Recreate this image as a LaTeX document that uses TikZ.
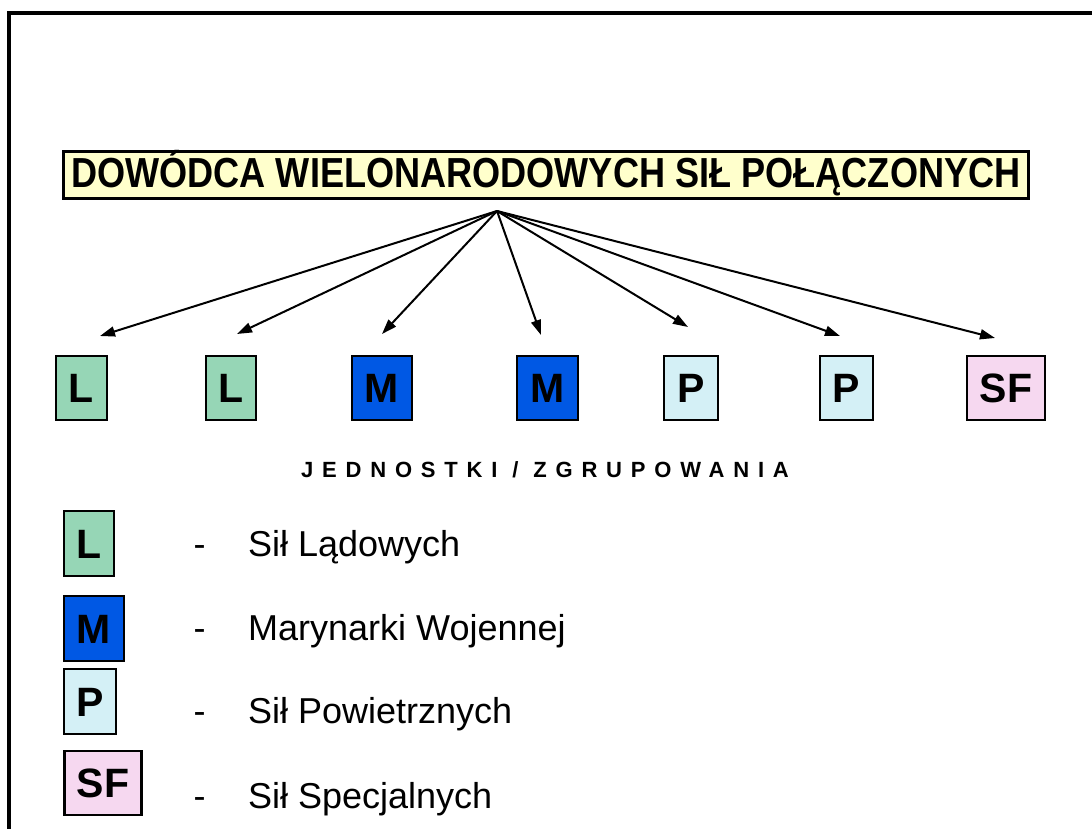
\documentclass[tikz,border=0pt]{standalone}
\usepackage{fontspec}
\setmainfont{Liberation Sans}
\usetikzlibrary{arrows.meta}
\definecolor{titlefill}{RGB}{255,255,204}
\definecolor{lfill}{RGB}{150,214,182}
\definecolor{mfill}{RGB}{0,88,228}
\definecolor{pfill}{RGB}{212,240,246}
\definecolor{sffill}{RGB}{246,216,240}
\tikzset{
  unitbox/.style={draw=black, line width=2.2pt, minimum height=64pt, inner sep=0pt,
    font=\fontsize{41}{41}\selectfont\bfseries, text height=29.5pt, text depth=0pt},
  arr/.style={line width=2pt, -{Triangle[length=15pt,width=10pt]}},
  legtext/.style={anchor=base west, inner sep=0pt, font=\fontsize{36}{36}\selectfont},
  legdash/.style={anchor=base, inner sep=0pt, font=\fontsize{36}{36}\selectfont},
}
\begin{document}
\begin{tikzpicture}[x=1pt,y=-1pt]
\clip (0,0) rectangle (1092,828);
\fill[white] (0,0) rectangle (1092,828);
% outer frame
\draw[line width=3.2pt] (9,13) rectangle (1120,860);
% title
\node[draw=black, line width=2.8pt, fill=titlefill, anchor=north west, inner sep=0pt,
      minimum width=965pt, text height=36pt, text depth=11pt] (title) at (62,150)
  {\fontsize{42}{42}\selectfont\bfseries\scalebox{0.86}[1]{DOWÓDCA WIELONARODOWYCH SIŁ POŁĄCZONYCH}};
% units
\node[unitbox, fill=lfill, minimum width=51pt] (u1) at (81.5,388) {L};
\node[unitbox, fill=lfill, minimum width=50pt] (u2) at (231,388) {L};
\node[unitbox, fill=mfill, minimum width=60pt] (u3) at (382,388) {M};
\node[unitbox, fill=mfill, minimum width=61pt] (u4) at (547.5,388) {M};
\node[unitbox, fill=pfill, minimum width=54pt] (u5) at (691,388) {P};
\node[unitbox, fill=pfill, minimum width=53pt] (u6) at (846.5,388) {P};
\node[unitbox, fill=sffill, minimum width=78pt] (u7) at (1006,388) {SF};
% arrows
\coordinate (apex) at (497,211);
\coordinate (t1) at (100,336);
\coordinate (t2) at (237,334);
\coordinate (t3) at (382,334);
\coordinate (t4) at (541,335);
\coordinate (t5) at (688,327);
\coordinate (t6) at (840,336);
\coordinate (t7) at (995,338);
\foreach \i in {1,...,7} \draw[arr] (apex) -- (t\i);
% heading
\node[anchor=base, inner sep=0pt] (head) at (545,477)
  {\fontsize{22}{22}\selectfont\bfseries\addfontfeature{LetterSpace=40}JEDNOSTKI / ZGRUPOWANIA};
% legend
\node[unitbox, fill=lfill, minimum width=50pt, minimum height=65pt] (k1) at (89,543.5) {L};
\node[unitbox, fill=mfill, minimum width=60pt, minimum height=65pt] (k2) at (94,628.5) {M};
\node[unitbox, fill=pfill, minimum width=52pt, minimum height=65pt] (k3) at (90,701.5) {P};
\node[unitbox, fill=sffill, minimum width=77pt, minimum height=64pt] (k4) at (103,783) {SF};
\node[legdash] (d1) at (199.5,556) {-};
\node[legdash] (d2) at (199.5,640) {-};
\node[legdash] (d3) at (199.5,723) {-};
\node[legdash] (d4) at (199.5,808) {-};
\node[legtext] (l1) at (248,556) {Sił Lądowych};
\node[legtext] (l2) at (248,640) {Marynarki Wojennej};
\node[legtext] (l3) at (248,723) {Sił Powietrznych};
\node[legtext] (l4) at (248,808) {Sił Specjalnych};
\end{tikzpicture}
\end{document}
